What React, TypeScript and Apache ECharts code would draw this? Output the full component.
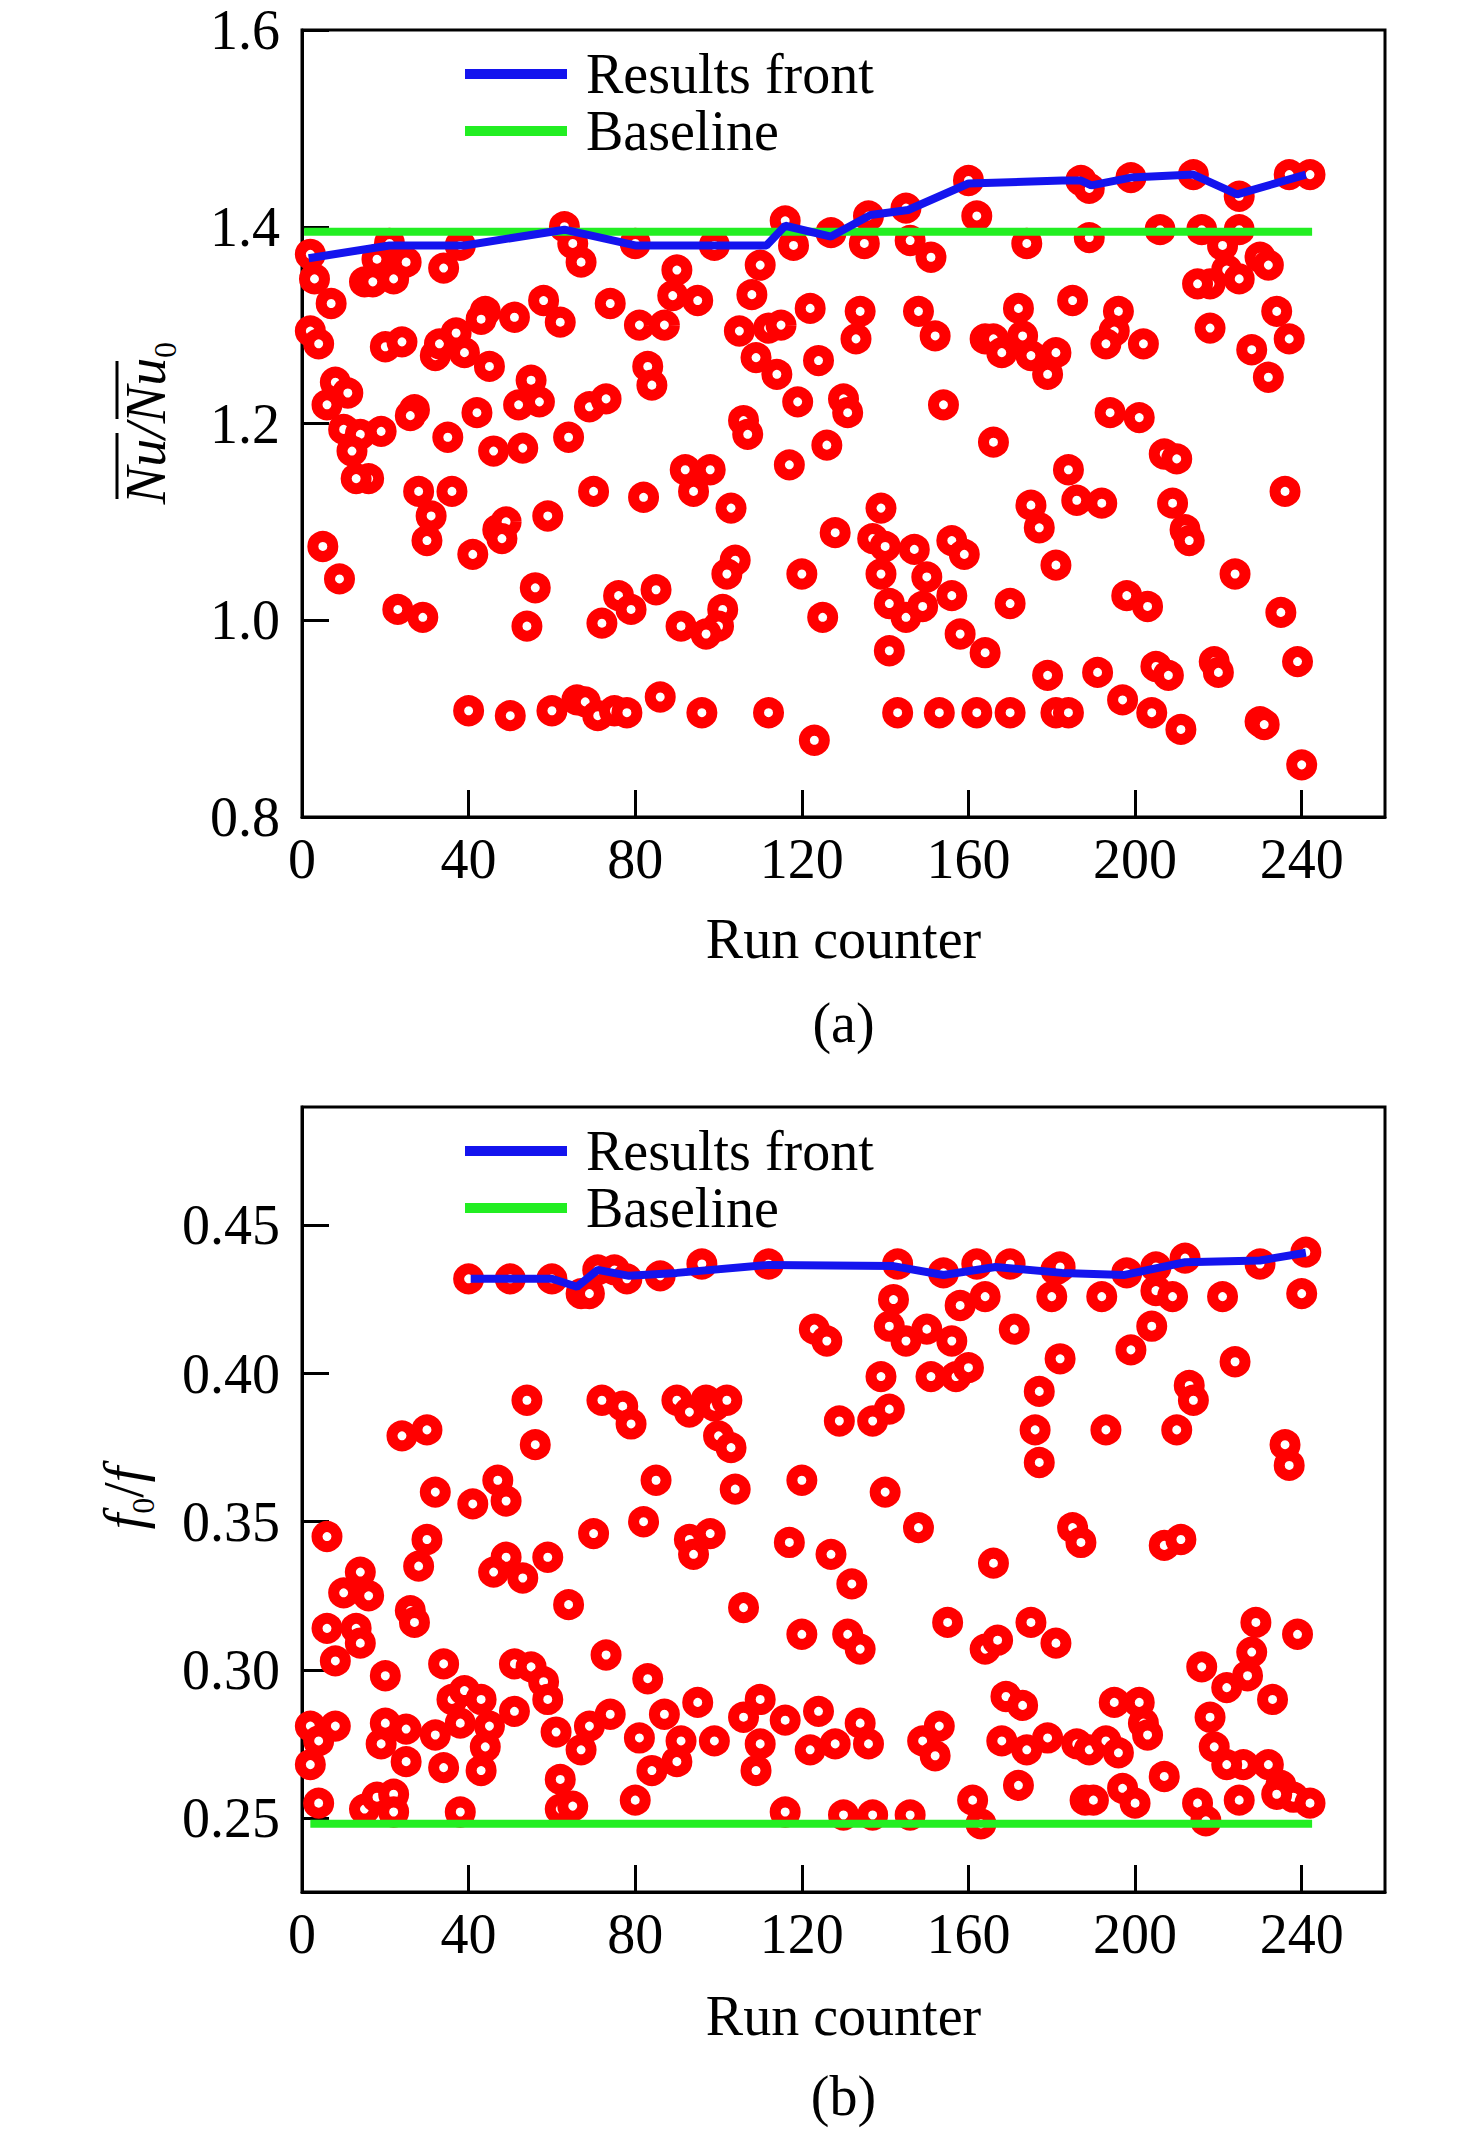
import React from 'react';
import * as echarts from 'echarts';

const FONT = 'Liberation Serif';
const RED = '#ff0000';
const BLUE = '#1414ee';
const GREEN = '#22ee22';

// x ticks shared by both panels
const runTicks = [0, 40, 80, 120, 160, 200, 240];
const nuTicks = [0.8, 1.0, 1.2, 1.4, 1.6];
const fTicks = [0.25, 0.3, 0.35, 0.4, 0.45];

// (a) Nu/Nu0 per run
const nuPoints = [
  [2, 1.372], [3, 1.347], [7, 1.322], [2, 1.294], [4, 1.281], [18, 1.367], [15, 1.344], [17, 1.344],
  [22, 1.347], [25, 1.364], [21, 1.383], [34, 1.358], [38, 1.381], [63, 1.4], [65, 1.383], [67, 1.364],
  [44, 1.314], [43, 1.306], [51, 1.308], [58, 1.325], [62, 1.303], [74, 1.322], [81, 1.3], [87, 1.3],
  [89, 1.33], [80, 1.383], [20, 1.278], [24, 1.283], [32, 1.269], [33, 1.281], [37, 1.292], [39, 1.272],
  [45, 1.258], [83, 1.258], [84, 1.239], [8, 1.242], [11, 1.231], [6, 1.219], [10, 1.194], [14, 1.189],
  [19, 1.192], [12, 1.172], [16, 1.144], [13, 1.144], [27, 1.214], [26, 1.208], [42, 1.211], [35, 1.186],
  [52, 1.219], [55, 1.244], [57, 1.222], [46, 1.172], [53, 1.175], [64, 1.186], [69, 1.217], [73, 1.225],
  [28, 1.131], [36, 1.131], [31, 1.106], [30, 1.081], [41, 1.067], [47, 1.092], [49, 1.1], [48, 1.083],
  [59, 1.106], [70, 1.131], [82, 1.125], [5, 1.075], [9, 1.042], [23, 1.011], [29, 1.003], [56, 1.033],
  [54, 0.994], [72, 0.997], [76, 1.025], [79, 1.011], [85, 1.031], [91, 0.994], [40, 0.908], [50, 0.903],
  [60, 0.908], [66, 0.919], [68, 0.917], [71, 0.903], [75, 0.908], [78, 0.906], [86, 0.922],
  [90, 1.356], [95, 1.325], [99, 1.381], [105, 1.294], [108, 1.331], [110, 1.361], [109, 1.267], [114, 1.25],
  [112, 1.297], [115, 1.3], [122, 1.317], [116, 1.406], [118, 1.381], [124, 1.264], [119, 1.222], [127, 1.394],
  [130, 1.225], [131, 1.211], [133, 1.286], [134, 1.314], [135, 1.383], [136, 1.411], [145, 1.419], [146, 1.386],
  [151, 1.369], [148, 1.314], [152, 1.289], [154, 1.219], [160, 1.447], [162, 1.411], [174, 1.383], [172, 1.317],
  [173, 1.289], [164, 1.286], [166, 1.286], [168, 1.272], [175, 1.269], [179, 1.25], [181, 1.272],
  [106, 1.203], [107, 1.189], [117, 1.158], [126, 1.178], [166, 1.181], [92, 1.153], [98, 1.153], [94, 1.131],
  [103, 1.114], [139, 1.114], [128, 1.089], [137, 1.083], [140, 1.075], [147, 1.072], [156, 1.081], [159, 1.067],
  [175, 1.117], [177, 1.094], [181, 1.056], [104, 1.061], [102, 1.047], [101, 1.011], [100, 0.994], [97, 0.986],
  [120, 1.047], [125, 1.003], [139, 1.047], [150, 1.044], [156, 1.025], [141, 1.017], [145, 1.003], [149, 1.014],
  [158, 0.986], [164, 0.967], [141, 0.969], [170, 1.017], [179, 0.944], [96, 0.906], [112, 0.906], [123, 0.878],
  [143, 0.906], [153, 0.906], [162, 0.906], [170, 0.906], [181, 0.906],
  [187, 1.447], [189, 1.439], [199, 1.45], [214, 1.453], [225, 1.431], [237, 1.453], [242, 1.453],
  [189, 1.389], [206, 1.397], [216, 1.397], [225, 1.397], [221, 1.381], [222, 1.356], [218, 1.342], [215, 1.342],
  [225, 1.347], [230, 1.369], [232, 1.361], [185, 1.325], [196, 1.314], [195, 1.294], [193, 1.281], [202, 1.281],
  [218, 1.297], [234, 1.314], [237, 1.286], [228, 1.275], [232, 1.247], [194, 1.211], [201, 1.206], [207, 1.169],
  [210, 1.164], [184, 1.153], [186, 1.122], [192, 1.119], [209, 1.119], [212, 1.092], [213, 1.081], [236, 1.131],
  [198, 1.025], [203, 1.014], [224, 1.047], [235, 1.008], [239, 0.958], [191, 0.947], [205, 0.953], [208, 0.944],
  [219, 0.958], [220, 0.947], [184, 0.906], [197, 0.919], [204, 0.906], [211, 0.889], [230, 0.897], [231, 0.894],
  [240, 0.853],
];
const nuFront = [
  [1.6, 1.368], [21, 1.381], [39, 1.381], [63, 1.397], [80, 1.381], [111.5, 1.381], [116, 1.401],
  [127, 1.39], [136.5, 1.412], [145.5, 1.417], [160, 1.444], [182.5, 1.447], [187, 1.447], [189.5, 1.442],
  [199, 1.45], [214, 1.453], [224.5, 1.433], [241, 1.453],
];
const nuBaseline = [[0.5, 1.395], [242.5, 1.395]];

// (b) f0/f per run
const fPoints = [
  [40, 0.432], [50, 0.432], [60, 0.432], [67, 0.427], [69, 0.427], [71, 0.435], [75, 0.435], [78, 0.432], [86, 0.433],
  [54, 0.391], [56, 0.376], [24, 0.379], [30, 0.381], [72, 0.391], [77, 0.389], [79, 0.383], [90, 0.391],
  [47, 0.364], [49, 0.357], [41, 0.356], [32, 0.36], [85, 0.364], [82, 0.35], [70, 0.346],
  [6, 0.345], [30, 0.344], [28, 0.335], [49, 0.338], [46, 0.333], [53, 0.331], [59, 0.338], [64, 0.322],
  [14, 0.333], [10, 0.326], [16, 0.325], [26, 0.32], [27, 0.316], [6, 0.314], [13, 0.314], [14, 0.309],
  [8, 0.303], [73, 0.305], [20, 0.298], [34, 0.302], [51, 0.302], [55, 0.301], [58, 0.296], [59, 0.29], [83, 0.297],
  [2, 0.281], [8, 0.281], [4, 0.276], [2, 0.268], [20, 0.282], [19, 0.275], [25, 0.28], [25, 0.269],
  [32, 0.278], [34, 0.267], [36, 0.29], [39, 0.293], [43, 0.29], [38, 0.282], [45, 0.281], [44, 0.274],
  [43, 0.266], [51, 0.286], [61, 0.279], [67, 0.273], [69, 0.281], [74, 0.285], [81, 0.277], [87, 0.285],
  [84, 0.266], [62, 0.263], [80, 0.256], [4, 0.255], [15, 0.253], [18, 0.257], [22, 0.258], [22, 0.252],
  [38, 0.252], [62, 0.253], [65, 0.254],
  [96, 0.437], [112, 0.437], [143, 0.437], [154, 0.434], [162, 0.437], [170, 0.437], [181, 0.435],
  [142, 0.425], [158, 0.423], [164, 0.426], [180, 0.426], [182, 0.405], [123, 0.415], [126, 0.411], [141, 0.416],
  [145, 0.411], [150, 0.415], [156, 0.411], [171, 0.415], [139, 0.399], [151, 0.399], [157, 0.399], [160, 0.402],
  [177, 0.394], [176, 0.381], [177, 0.37], [93, 0.387], [97, 0.391], [99, 0.389], [102, 0.391], [100, 0.379],
  [103, 0.375], [129, 0.384], [137, 0.384], [141, 0.388], [104, 0.361], [120, 0.364], [140, 0.36], [148, 0.348],
  [93, 0.344], [98, 0.346], [94, 0.339], [117, 0.343], [127, 0.339], [132, 0.329], [166, 0.336], [106, 0.321],
  [120, 0.312], [131, 0.312], [134, 0.307], [155, 0.316], [164, 0.307], [167, 0.31], [175, 0.316], [181, 0.309],
  [95, 0.289], [91, 0.276], [90, 0.269], [99, 0.276], [106, 0.284], [110, 0.29], [110, 0.275], [109, 0.266],
  [116, 0.283], [122, 0.273], [124, 0.286], [128, 0.275], [134, 0.282], [136, 0.275], [149, 0.276], [153, 0.281],
  [152, 0.271], [169, 0.291], [173, 0.288], [168, 0.276], [174, 0.273], [179, 0.277], [172, 0.261],
  [116, 0.252], [130, 0.251], [137, 0.251], [146, 0.251], [161, 0.256], [163, 0.248],
  [182, 0.436], [198, 0.434], [205, 0.436], [212, 0.439], [230, 0.437], [241, 0.441],
  [192, 0.426], [205, 0.428], [209, 0.426], [221, 0.426], [240, 0.427], [204, 0.416], [199, 0.408], [224, 0.404],
  [213, 0.396], [214, 0.391], [193, 0.381], [210, 0.381], [236, 0.376], [237, 0.369], [185, 0.348], [187, 0.343],
  [207, 0.342], [211, 0.344], [229, 0.316], [239, 0.312], [228, 0.306], [216, 0.301], [227, 0.298], [222, 0.294],
  [233, 0.29], [195, 0.289], [201, 0.289], [202, 0.282], [203, 0.278], [186, 0.275], [189, 0.273], [193, 0.276],
  [196, 0.272], [218, 0.284], [219, 0.274], [226, 0.268], [222, 0.268], [232, 0.268], [207, 0.264], [197, 0.26],
  [188, 0.256], [190, 0.256], [200, 0.255], [215, 0.255], [217, 0.249], [225, 0.256], [235, 0.261], [238, 0.257],
  [242, 0.255], [234, 0.258],
];
const fFront = [
  [40.5, 0.432], [60, 0.432], [66, 0.4293], [71, 0.435], [78.5, 0.433], [90, 0.434], [112, 0.4367],
  [142, 0.4363], [154, 0.4333], [166.5, 0.436], [182.5, 0.434], [197.5, 0.4333], [212, 0.4376],
  [230, 0.4382], [241, 0.4408],
];
const fBaseline = [[2, 0.248], [242.5, 0.248]];

const legendNames = ['Results front', 'Baseline'];

const GRID_LEFT = 302;
const GRID_WIDTH = 1083;

function xAxis(gridIndex: number, nameGap: number, margin: number) {
  return {
    type: 'value',
    gridIndex,
    min: 0,
    max: 260,
    name: 'Run counter',
    nameLocation: 'middle',
    nameGap,
    nameTextStyle: { fontFamily: FONT, fontSize: 56, color: '#000' },
    axisLine: { show: true, lineStyle: { color: '#000', width: 3 } },
    axisTick: { show: true, inside: true, length: 27, lineStyle: { color: '#000', width: 3 }, customValues: runTicks },
    axisLabel: { fontFamily: FONT, fontSize: 56, color: '#000', margin, customValues: runTicks },
    splitLine: { show: false },
  };
}

function yAxis(gridIndex: number, min: number, max: number, ticks: number[], digits: number) {
  return {
    type: 'value',
    gridIndex,
    min,
    max,
    axisLine: { show: true, lineStyle: { color: '#000', width: 3 } },
    axisTick: { show: true, inside: true, length: 27, lineStyle: { color: '#000', width: 3 }, customValues: ticks },
    axisLabel: {
      fontFamily: FONT,
      fontSize: 56,
      color: '#000',
      margin: 22,
      customValues: ticks,
      formatter: (v: number) => v.toFixed(digits),
    },
    splitLine: { show: false },
  };
}

function ringSeries(points: number[][], idx: number) {
  return {
    type: 'scatter',
    name: 'runs',
    xAxisIndex: idx,
    yAxisIndex: idx,
    data: points,
    symbol: 'circle',
    symbolSize: 20,
    itemStyle: { color: '#ffffff', borderColor: RED, borderWidth: 11, opacity: 1 },
    z: 2,
  };
}

function lineSeries(name: string, data: number[][], color: string, idx: number) {
  return {
    type: 'line',
    name,
    xAxisIndex: idx,
    yAxisIndex: idx,
    data,
    symbol: 'none',
    showSymbol: false,
    lineStyle: { color, width: 8 },
    itemStyle: { color },
    z: 3,
  };
}

function legend(top: number) {
  return {
    data: legendNames,
    orient: 'vertical',
    left: 465,
    top,
    padding: 0,
    itemGap: 1,
    itemWidth: 102,
    itemHeight: 10,
    icon: 'rect',
    selectedMode: false,
    textStyle: { fontFamily: FONT, fontSize: 56, color: '#000', lineHeight: 56, padding: [0, 0, 0, 14] },
  };
}

function overline(x1: number, x2: number, y: number) {
  return { type: 'line', shape: { x1, y1: y, x2, y2: y }, style: { stroke: '#000', lineWidth: 3 } };
}

export default function App() {
  const ref = React.useRef<HTMLDivElement>(null);

  React.useEffect(() => {
    if (!ref.current) return;
    document.body.style.margin = '0';
    const chart = echarts.init(ref.current, null, { renderer: 'svg' });

    const option = {
      animation: false,
      backgroundColor: '#ffffff',
      grid: [
        { left: GRID_LEFT, top: 30, width: GRID_WIDTH, height: 787, show: true, borderColor: '#000', borderWidth: 3, backgroundColor: 'transparent' },
        { left: GRID_LEFT, top: 1107, width: GRID_WIDTH, height: 785, show: true, borderColor: '#000', borderWidth: 3, backgroundColor: 'transparent' },
      ],
      xAxis: [xAxis(0, 94, 14), xAxis(1, 96, 14)],
      yAxis: [yAxis(0, 0.8, 1.6, nuTicks, 1), yAxis(1, 0.225, 0.49, fTicks, 2)],
      legend: [legend(46), legend(1123)],
      series: [
        ringSeries(nuPoints, 0),
        lineSeries('Baseline', nuBaseline, GREEN, 0),
        lineSeries('Results front', nuFront, BLUE, 0),
        ringSeries(fPoints, 1),
        lineSeries('Baseline', fBaseline, GREEN, 1),
        lineSeries('Results front', fFront, BLUE, 1),
      ],
      graphic: [
        {
          type: 'group',
          x: 146,
          y: 423,
          rotation: Math.PI / 2,
          children: [
            {
              type: 'text',
              style: {
                text: '{i|Nu/Nu}{s|0}',
                align: 'center',
                verticalAlign: 'middle',
                rich: {
                  i: { fontFamily: FONT, fontSize: 56, fontStyle: 'italic', lineHeight: 70, verticalAlign: 'middle', fill: '#000' },
                  s: { fontFamily: FONT, fontSize: 32, lineHeight: 36, verticalAlign: 'bottom', fill: '#000' },
                },
              },
            },
            overline(-76, -10, -29),
            overline(4, 62, -29),
          ],
        },
        {
          type: 'group',
          x: 124,
          y: 1498,
          rotation: Math.PI / 2,
          children: [
            {
              type: 'text',
              style: {
                text: '{i|f}{s|0}{n|/}{i|f}',
                align: 'center',
                verticalAlign: 'middle',
                rich: {
                  i: { fontFamily: FONT, fontSize: 56, fontStyle: 'italic', lineHeight: 70, verticalAlign: 'middle', fill: '#000' },
                  n: { fontFamily: FONT, fontSize: 56, lineHeight: 70, verticalAlign: 'middle', fill: '#000' },
                  s: { fontFamily: FONT, fontSize: 32, lineHeight: 36, verticalAlign: 'bottom', fill: '#000' },
                },
              },
            },
          ],
        },
        {
          type: 'text',
          x: GRID_LEFT + GRID_WIDTH / 2,
          y: 1023,
          style: { text: '(a)', fontFamily: FONT, fontSize: 56, fill: '#000', align: 'center', verticalAlign: 'middle' },
        },
        {
          type: 'text',
          x: GRID_LEFT + GRID_WIDTH / 2,
          y: 2096,
          style: { text: '(b)', fontFamily: FONT, fontSize: 56, fill: '#000', align: 'center', verticalAlign: 'middle' },
        },
      ],
    };

    chart.setOption(option as any);

    return () => {
      chart.dispose();
    };
  }, []);

  return <div ref={ref} style={{ width: '1476px', height: '2129px' }} />;
}
